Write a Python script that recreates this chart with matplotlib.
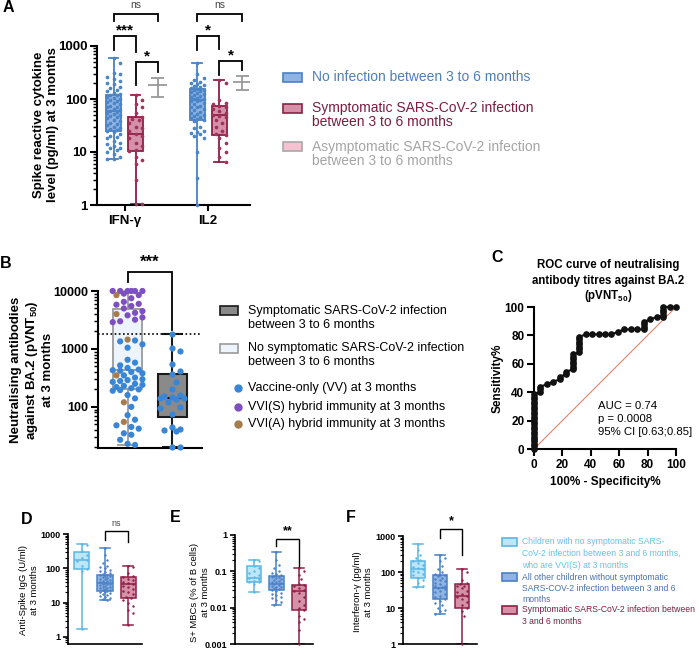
import math
import matplotlib
matplotlib.use("Agg")
import matplotlib.pyplot as plt
import matplotlib.transforms as mtransforms
from matplotlib.patches import Rectangle
from matplotlib.lines import Line2D

plt.rcParams['font.family'] = ['Liberation Sans', 'DejaVu Sans']
plt.rcParams['mathtext.fontset'] = 'custom'
plt.rcParams['mathtext.rm'] = 'Liberation Sans'
plt.rcParams['mathtext.bf'] = 'Liberation Sans:bold'

# ---------------- data ----------------
# panel A: spike reactive cytokines (pg/ml)
a_groups = ["IFN-γ", "IL2"]
ifn_noinf = [600, 480, 310, 290, 260, 240, 220, 200, 190, 170, 160, 150, 140, 130, 125,
             120, 118, 110, 105, 100, 95, 90, 88, 85, 80, 75, 72, 70, 66, 63, 60, 58, 55,
             52, 50, 48, 45, 43, 40, 38, 36, 34, 32, 30, 28, 27, 26, 25, 24, 22, 20, 19,
             18, 16, 15, 14, 13, 12, 12, 11, 10, 9, 8, 7.5, 7.3]
ifn_symp = [120, 95, 80, 70, 55, 45, 42, 40, 35, 30, 28, 25, 22, 20, 18, 15, 13, 11,
            10.5, 8, 7, 6, 3, 1.05, 1.05]
il2_noinf = [470, 300, 250, 230, 210, 200, 190, 180, 175, 165, 160, 155, 150, 145, 140,
             135, 130, 125, 120, 115, 110, 105, 100, 98, 95, 92, 90, 85, 80, 75, 72, 70,
             66, 62, 58, 55, 52, 50, 47, 45, 43, 42, 40, 38, 30, 28, 25, 24, 23, 22, 20,
             18, 10, 3.2, 1.0]
il2_symp = [230, 200, 95, 85, 80, 75, 70, 65, 60, 55, 50, 48, 45, 40, 35, 30, 25, 22,
            21, 18, 15, 12, 10, 8, 6.5]
# box stats: q1, median, q3, min, max
ifn_noinf_box = (25, 60, 120, 7.3, 600)
ifn_symp_box = (10.5, 22, 45, 1.05, 120)
il2_noinf_box = (40, 95, 155, 1.0, 470)
il2_symp_box = (21, 50, 75, 6.5, 230)
# asymptomatic: min, mean, max
ifn_asymp = (110, 180, 250)
il2_asymp = (150, 210, 270)

# panel B: neutralising antibodies against BA.2 (pVNT50)
b_nosymp_vv = [1400, 1350, 1200, 1050, 650, 580, 520, 470, 440, 430, 420, 400, 380, 350,
               320, 300, 290, 280, 270, 250, 240, 230, 220, 210, 200, 195, 190, 160, 140,
               100, 72, 60, 48, 45, 42, 35, 33, 27, 23, 22]
b_nosymp_vvis = [10000, 10000, 10000, 10000, 10000, 10000, 9000, 8500,
                 7500, 6500, 6000, 5800, 5500, 5000, 4500, 4200, 3800, 3500, 3200, 3000,
                 2900]
b_nosymp_vvia = [8500, 4000, 1450, 350, 120, 55]
b_symp_vv = [1800, 1050, 920, 550, 420, 370, 270, 200, 160, 155, 150, 145, 140, 135, 120,
             100, 95, 75, 45, 42, 40, 38, 20, 20]
b_nosymp_box = (205, 435, 4900, 22, 10000)
b_symp_box = (67, 143, 370, 20, 1800)
b_threshold = 1800

# panel C: ROC curve
roc_fpr = [0, 0, 0, 0, 0, 0, 0, 0, 0, 0, 0, 0, 0, 0, 0, 0, 0, 0, 0, 0, 0, 0, 0,
           4.5, 4.5, 4.5, 9.1, 13.6, 18.2, 18.2, 22.7, 22.7,
           27.3, 27.3, 27.3, 27.3, 27.3, 27.3, 27.3,
           31.8, 31.8, 31.8, 31.8, 31.8, 31.8, 31.8,
           36.4, 40.9, 45.5, 50.0, 54.5, 59.1, 63.6, 68.2, 72.7,
           77.3, 77.3, 77.3, 77.3, 81.8, 86.4, 90.9, 90.9, 90.9, 90.9, 90.9, 95.5, 100]
roc_sens = [0, 1.8, 3.5, 5.3, 7.0, 8.8, 10.5, 12.3, 14.0, 15.8, 17.5, 19.3, 21.1, 22.8,
            24.6, 26.3, 28.1, 29.8, 31.6, 33.3, 35.1, 36.8, 38.6,
            40.4, 42.1, 43.9, 45.6, 47.4, 49.1, 50.9, 52.6, 54.4,
            56.1, 57.9, 59.6, 61.4, 63.2, 64.9, 66.7,
            68.4, 70.2, 71.9, 73.7, 75.4, 77.2, 78.9,
            80.7, 80.7, 80.7, 80.7, 80.7, 82.5, 84.2, 84.2, 84.2,
            84.2, 86.0, 87.7, 89.5, 91.2, 93.0, 93.0, 94.7, 96.5, 98.2, 100, 100, 100]
roc_text = "AUC = 0.74\np = 0.0008\n95% CI [0.63;0.85]"

# panel D: anti-spike IgG (U/ml)
d_vvis = [500, 480, 320, 250, 200, 180, 160, 120, 95, 85, 1.7]
d_other = [400, 240, 180, 140, 120, 110, 100, 90, 85, 80, 75, 70, 65, 62, 60, 58, 55, 52,
           50, 48, 46, 44, 42, 40, 38, 36, 35, 34, 32, 30, 29, 28, 27, 26, 25, 24, 23, 22,
           21, 20, 19, 18, 17, 16, 15, 14, 13, 12]
d_symp = [120, 110, 75, 60, 57, 50, 45, 40, 38, 35, 30, 28, 25, 22, 20, 18, 15, 14, 12,
          10, 8, 6, 5, 2.2]
d_boxes = [(95, 180, 300, 1.7, 500), (22, 38, 65, 12, 400), (14, 35, 57, 2.2, 120)]

# panel E: S+ MBCs (% of B cells)
e_vvis = [0.2, 0.19, 0.14, 0.12, 0.1, 0.09, 0.08, 0.07, 0.065, 0.06, 0.055, 0.05, 0.05,
          0.045, 0.027]
e_other = [0.33, 0.2, 0.15, 0.12, 0.1, 0.09, 0.085, 0.08, 0.075, 0.07, 0.068, 0.065, 0.06,
           0.058, 0.055, 0.052, 0.05, 0.048, 0.045, 0.043, 0.04, 0.038, 0.036, 0.034,
           0.032, 0.03, 0.028, 0.026, 0.024, 0.022, 0.02, 0.018, 0.016, 0.014, 0.012]
e_symp = [0.12, 0.1, 0.08, 0.06, 0.045, 0.042, 0.04, 0.035, 0.03, 0.028, 0.025, 0.02,
          0.015, 0.012, 0.01, 0.0085, 0.006, 0.005, 0.004, 0.0025, 0.001]
e_boxes = [(0.05, 0.065, 0.14, 0.027, 0.2), (0.03, 0.045, 0.075, 0.012, 0.33),
           (0.0085, 0.028, 0.042, 0.001, 0.12)]

# panel F: interferon-gamma (pg/ml)
f_vvis = [600, 400, 300, 250, 220, 200, 180, 160, 140, 130, 120, 110, 100, 90, 80, 70, 60,
          50, 40, 38]
f_other = [300, 250, 200, 150, 120, 100, 90, 85, 80, 75, 70, 65, 60, 55, 50, 45, 42, 40,
           38, 35, 33, 30, 28, 25, 22, 20, 18, 16, 14, 12, 10, 9, 8, 7]
f_symp = [120, 100, 60, 50, 45, 42, 40, 35, 30, 28, 25, 22, 20, 18, 15, 12, 10, 8, 6, 1]
f_boxes = [(70, 120, 200, 38, 600), (18, 35, 80, 7, 300), (10, 22, 45, 1, 120)]

# ---------------- styles ----------------
BLUE_E, BLUE_F = '#4a80c4', '#8fb4e3'
RED_E, RED_F = '#8e1f46', '#d591a8'
GREY = '#9a9a9a'
CYAN_E, CYAN_F = '#5ab8e6', '#bde6f8'
B_BLUE, B_PURPLE, B_BROWN = '#3a86d6', '#7d4fc0', '#a57c4a'

W, H = 699, 649
fig = plt.figure(figsize=(W / 100, H / 100), dpi=100)


def add_ax(l, t, r, b):
    ax = fig.add_axes([l / W, 1 - b / H, (r - l) / W, (b - t) / H])
    ax.patch.set_alpha(0)
    ax.spines['top'].set_visible(False)
    ax.spines['right'].set_visible(False)
    ax.bounds = (t, b)
    return ax


def ftext(x, y, s, **kw):
    fig.text(x / W, 1 - y / H, s, **kw)


def frect(x, yc, w, h, fc, ec, lw=1.2):
    fig.patches.append(Rectangle((x / W, 1 - (yc + h / 2) / H), w / W, h / H,
                                 transform=fig.transFigure, fc=fc, ec=ec, lw=lw))


def box(ax, pos, stat, width, edge, fill, lw=1.3, med_ls='-', med_color=None):
    q1, med, q3, lo, hi = stat
    ax.bxp([dict(med=med, q1=q1, q3=q3, whislo=lo, whishi=hi)], positions=[pos],
           widths=width, capwidths=width * 0.65, patch_artist=True, showfliers=False,
           boxprops=dict(facecolor=fill, edgecolor=edge, lw=lw),
           whiskerprops=dict(color=edge, lw=lw), capprops=dict(color=edge, lw=lw),
           medianprops=dict(color=med_color or edge, lw=lw, ls=med_ls), zorder=2)


def swarm(vals, width, ppx, ppd, dist):
    # simple beeswarm: put each point in the nearest free horizontal slot
    half = width / 2 * ppx
    step = dist * 0.5
    slots = [0.0]
    j = 1
    while j * step <= half:
        slots += [j * step, -j * step]
        j += 1
    order = sorted(range(len(vals)), key=lambda i: -vals[i])
    placed = []
    offs = [0.0] * len(vals)
    for i in order:
        y = math.log10(vals[i]) * ppd
        best, best_d = slots[0], -1
        for c in slots:
            d = min([math.hypot(c - px, y - py) for px, py in placed] or [1e9])
            if d >= dist:
                best = c
                break
            if d > best_d:
                best, best_d = c, d
        placed.append((best, y))
        offs[i] = best / ppx
    return offs


def dots(ax, pos, vals, colors, width, s, ppx, ppd, gap=1.0):
    diam = math.sqrt(s) * 100 / 72
    offs = swarm(vals, width, ppx, ppd, diam * gap)
    ax.scatter([pos + o for o in offs], vals, s=s, c=colors, zorder=3, lw=0,
               clip_on=False)


def bracket(ax, x1, x2, ytop, y1, y2, text, ty, fs=10, weight='bold', color='black',
            lw=1.3, tcolor='black'):
    t, b = ax.bounds
    f = lambda y: (b - y) / (b - t)
    tr = mtransforms.blended_transform_factory(ax.transData, ax.transAxes)
    ax.plot([x1, x1, x2, x2], [f(y1), f(ytop), f(ytop), f(y2)], color=color, lw=lw,
            transform=tr, clip_on=False, solid_joinstyle='miter')
    ax.text((x1 + x2) / 2, f(ty), text, transform=tr, ha='center', va='center',
            fontsize=fs, fontweight=weight, color=tcolor)


def log_ticks(ax, ticks, labels, fs, lw=1.5, major=5, minor=3):
    ax.set_yscale('log')
    ax.set_yticks(ticks)
    ax.set_yticklabels(labels, fontsize=fs, fontweight='bold')
    ax.tick_params(axis='y', which='major', length=major, width=lw, pad=2)
    ax.tick_params(axis='y', which='minor', length=minor, width=lw * 0.7)
    for s in ['left', 'bottom']:
        ax.spines[s].set_linewidth(lw)


# ---------------- panel A ----------------
axA = add_ax(97, 46, 250, 205)
pA = [0, 1, 2, 3.8, 4.8, 5.85]
wA = 0.68
box(axA, pA[0], ifn_noinf_box, wA, BLUE_E, BLUE_F)
box(axA, pA[1], ifn_symp_box, wA, RED_E, RED_F)
box(axA, pA[3], il2_noinf_box, wA, BLUE_E, BLUE_F)
box(axA, pA[4], il2_symp_box, wA, RED_E, RED_F)
dots(axA, pA[0], ifn_noinf, '#4a85c8', wA, 7, 22, 53, gap=1.8)
dots(axA, pA[1], ifn_symp, '#a0335a', wA, 7, 22, 53, gap=1.8)
dots(axA, pA[3], il2_noinf, '#4a85c8', wA, 7, 22, 53, gap=1.8)
dots(axA, pA[4], il2_symp, '#a0335a', wA, 7, 22, 53, gap=1.8)
for p, (lo, mean, hi) in [(pA[2], ifn_asymp), (pA[5], il2_asymp)]:
    axA.vlines(p, lo, hi, color=GREY, lw=1.3)
    axA.hlines([lo, hi], p - 0.3, p + 0.3, color=GREY, lw=1.3)
    axA.hlines(mean, p - 0.42, p + 0.42, color=GREY, lw=1.3)
log_ticks(axA, [1, 10, 100, 1000], ['1', '10', '100', '1000'], 9.5)
axA.set_ylim(1, 1000)
axA.set_xlim(-0.75, 6.2)
axA.set_xticks([0.5, 4.3])
axA.set_xticklabels(a_groups, fontsize=9.5, fontweight='bold')
axA.tick_params(axis='x', length=4, width=1.5)
bracket(axA, pA[0], pA[2], 14, 21, 21, 'ns', 5, fs=7.5, weight='normal', tcolor='#444444')
bracket(axA, pA[0], pA[1], 36, 50, 52, '***', 30, fs=11)
bracket(axA, pA[1], pA[2], 62, 85, 72, '*', 56, fs=11)
bracket(axA, pA[3], pA[5], 14, 21, 21, 'ns', 5, fs=7.5, weight='normal', tcolor='#444444')
bracket(axA, pA[3], pA[4], 36, 50, 49, '*', 30, fs=11)
bracket(axA, pA[4], pA[5], 61, 75, 70, '*', 55, fs=11)
ftext(46, 125, "Spike reactive cytokine\nlevel (pg/ml) at 3 months", rotation=90,
      ha='center', va='center', fontsize=9.5, fontweight='bold', multialignment='center')

# legend A
frect(283, 77, 19, 9, BLUE_F, BLUE_E)
frect(283, 108, 19, 9, RED_F, RED_E)
frect(283, 147, 19, 9, '#f4c2d0', '#a8a8a8')
ftext(312, 77, "No infection between 3 to 6 months", va='center', fontsize=10,
      color='#4e7fb8')
ftext(312, 108, "Symptomatic SARS-CoV-2 infection", va='center', fontsize=10,
      color='#7c1d3f')
ftext(312, 122, "between 3 to 6 months", va='center', fontsize=10, color='#7c1d3f')
ftext(312, 147, "Asymptomatic SARS-CoV-2 infection", va='center', fontsize=10,
      color='#a5a5a5')
ftext(312, 161, "between 3 to 6 months", va='center', fontsize=10, color='#a5a5a5')

# ---------------- panel B ----------------
axB = add_ax(98, 291, 202, 448)
wB = 0.64
box(axB, 0, b_nosymp_box, wB, '#9a9a9a', '#eef4fb', lw=1.3)
box(axB, 1, b_symp_box, wB, '#1a1a1a', '#8a8a8a', lw=1.5, med_ls=(0, (3, 1.5)))
g1_vals = b_nosymp_vv + b_nosymp_vvis + b_nosymp_vvia
g1_cols = ([B_BLUE] * len(b_nosymp_vv) + [B_PURPLE] * len(b_nosymp_vvis)
           + [B_BROWN] * len(b_nosymp_vvia))
dots(axB, 0, g1_vals, g1_cols, wB * 1.05, 20, 45, 58, gap=1.2)
dots(axB, 1, b_symp_vv, B_BLUE, wB * 1.05, 20, 45, 58, gap=1.3)
axB.axhline(b_threshold, color='black', lw=1.2, ls=(0, (1, 1.5)), xmax=1.0)
log_ticks(axB, [100, 1000, 10000], ['100', '1000', '10000'], 9)
axB.set_ylim(19.5, 10000)
axB.set_xlim(-0.66, 1.66)
axB.set_xticks([])
bracket(axB, 0, 1, 272, 282, 330, '***', 262, fs=12)
ftext(32, 370, "Neutralising antibodies\nagainst BA.2 (pVNT$_{\\mathbf{50}}$)\nat 3 months",
      rotation=90, ha='center', va='center', fontsize=9.5, fontweight='bold',
      multialignment='center')

# legend B
frect(220, 310, 18, 9, '#8a8a8a', '#1a1a1a')
frect(220, 348, 18, 9, '#eef4fb', '#9a9a9a')
ftext(248, 311, "Symptomatic SARS-CoV-2 infection", va='center', fontsize=9)
ftext(248, 325, "between 3 to 6 months", va='center', fontsize=9)
ftext(248, 348, "No symptomatic SARS-CoV-2 infection", va='center', fontsize=9)
ftext(248, 362, "between 3 to 6 months", va='center', fontsize=9)
for yy, col, lab in [(388, B_BLUE, "Vaccine-only (VV) at 3 months"),
                     (407, B_PURPLE, "VVI(S) hybrid immunity at 3 months"),
                     (424, B_BROWN, "VVI(A) hybrid immunity at 3 months")]:
    fig.lines.append(Line2D([238 / W], [1 - yy / H], marker='o', ms=5, color=col,
                            lw=0, transform=fig.transFigure))
    ftext(248, yy, lab, va='center', fontsize=9)

# ---------------- panel C ----------------
axC = add_ax(534, 307, 676, 449)
axC.plot([0, 100], [0, 100], color='#e8826a', lw=0.8, zorder=1)
axC.plot(roc_fpr, roc_sens, '-o', color='#111111', ms=3.8, lw=1.5, clip_on=False,
         zorder=3)
axC.set_xlim(0, 100)
axC.set_ylim(0, 100)
axC.set_xticks([0, 20, 40, 60, 80, 100])
axC.set_yticks([0, 20, 40, 60, 80, 100])
for lab in axC.get_xticklabels() + axC.get_yticklabels():
    lab.set_fontweight('bold')
    lab.set_fontsize(8.5)
axC.tick_params(length=5, width=1.5, pad=2)
for s in ['left', 'bottom']:
    axC.spines[s].set_linewidth(1.5)
axC.set_xlabel("100% - Specificity%", fontsize=8.5, fontweight='bold', labelpad=4)
ftext(498, 378, "Sensitivity%", rotation=90, ha='center', va='center', fontsize=8.5,
      fontweight='bold')
ftext(608, 265, "ROC curve of neutralising", ha='center', va='center', fontsize=8.3,
      fontweight='bold')
ftext(608, 281, "antibody titres against BA.2", ha='center', va='center', fontsize=8.3,
      fontweight='bold')
ftext(608, 296, "(pVNT$_{\\mathbf{50}}$)", ha='center', va='center', fontsize=8.3,
      fontweight='bold')
ftext(598, 401, roc_text, ha='left', va='top', fontsize=8.2, linespacing=1.4)

# ---------------- panels D, E, F ----------------
bottom_cols = [(CYAN_E, CYAN_F), (BLUE_E, BLUE_F), (RED_E, RED_F)]
wL = 0.65


def small_panel(ax, groups, boxes, ticks, labels, ylim, xlim, ppx, ppd):
    for i, (vals, st, (ec, fc)) in enumerate(zip(groups, boxes, bottom_cols)):
        box(ax, i, st, wL, ec, fc, lw=1.1)
        dots(ax, i, vals, ec, wL * 0.95, 3, ppx, ppd, gap=2.0)
    log_ticks(ax, ticks, labels, 6.5, lw=1.2, major=3.5, minor=2)
    ax.set_ylim(*ylim)
    ax.set_xlim(*xlim)
    ax.set_xticks([])


axD = add_ax(68, 534, 142, 644)
small_panel(axD, [d_vvis, d_other, d_symp], d_boxes, [1, 10, 100, 1000],
            ['1', '10', '100', '1000'], (0.62, 1000), (-0.6, 2.6), 23, 34)
bracket(axD, 1, 2, 531, 540, 542, 'ns', 523, fs=6.5, weight='normal', lw=1.0,
        tcolor='#444444')
ftext(29, 590, "Anti-Spike IgG (U/ml)\nat 3 months", rotation=90, ha='center',
      va='center', fontsize=6.8, multialignment='center')

axE = add_ax(235, 535, 313, 644)
small_panel(axE, [e_vvis, e_other, e_symp], e_boxes, [0.001, 0.01, 0.1, 1],
            ['0.001', '0.01', '0.1', '1'], (0.001, 1), (-0.84, 2.62), 22.5, 36)
bracket(axE, 1, 2, 539, 546, 567, '**', 531, fs=9, lw=1.0)
ftext(200, 592, "S+ MBCs (% of B cells)\nat 3 months", rotation=90, ha='center',
      va='center', fontsize=6.8, multialignment='center')

axF = add_ax(403, 536, 477, 644)
small_panel(axF, [f_vvis, f_other, f_symp], f_boxes, [1, 10, 100, 1000],
            ['1', '10', '100', '1000'], (1, 1000), (-0.68, 2.68), 22, 36)
bracket(axF, 1, 2, 529, 538, 555, '*', 521, fs=9, lw=1.0)
ftext(363, 592, "Interferon-γ (pg/ml)\nat 3 months", rotation=90, ha='center',
      va='center', fontsize=6.8, multialignment='center')

# legend bottom
frect(502, 542, 15, 8, CYAN_F, CYAN_E)
frect(502, 577, 15, 8, BLUE_F, BLUE_E)
frect(502, 610, 15, 8, RED_F, RED_E)
leg_rows = [(542, '#62c3ea', ["Children with no symptomatic SARS-",
                              "CoV-2 infection between 3 and 6 months,",
                              "who are VVI(S) at 3 months"]),
            (577, '#4a72ad', ["All other children without symptomatic",
                              "SARS-COV-2 infection between 3 and 6",
                              "months"]),
            (610, '#7c1d3f', ["Symptomatic SARS-CoV-2 infection between",
                              "3 and 6 months"])]
for y0, col, lines in leg_rows:
    for k, ln in enumerate(lines):
        ftext(522, y0 + k * 11.5, ln, va='center', fontsize=6.2, color=col)

# panel letters
for lx, ly, L in [(8, 8, 'A'), (6, 263, 'B'), (497, 258, 'C'), (27, 520, 'D'),
                  (175, 518, 'E'), (351, 518, 'F')]:
    ftext(lx, ly, L, ha='center', va='center', fontsize=11.5, fontweight='bold')

fig.savefig("out.png", dpi=100)
